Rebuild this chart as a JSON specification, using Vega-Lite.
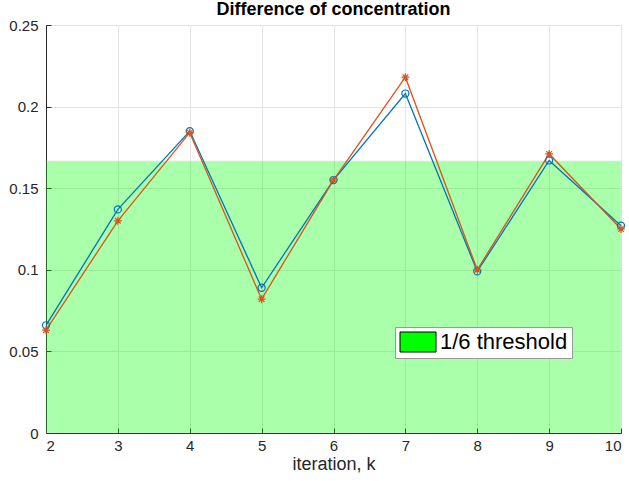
{
  "$schema": "https://vega.github.io/schema/vega-lite/v6.json",
  "autosize": {"type": "none"},
  "padding": {"left": 46, "top": 25, "right": 8, "bottom": 48},
  "width": 575,
  "height": 408,
  "background": "white",
  "title": {"text": "Difference of concentration", "font": "Liberation Sans", "fontSize": 18, "fontWeight": "bold", "color": "#000000", "offset": -1, "anchor": "middle"},
  "datasets": {
    "series": [
      {"k": 2, "value": 0.066, "series": "A"},
      {"k": 3, "value": 0.137, "series": "A"},
      {"k": 4, "value": 0.185, "series": "A"},
      {"k": 5, "value": 0.089, "series": "A"},
      {"k": 6, "value": 0.155, "series": "A"},
      {"k": 7, "value": 0.208, "series": "A"},
      {"k": 8, "value": 0.099, "series": "A"},
      {"k": 9, "value": 0.167, "series": "A"},
      {"k": 10, "value": 0.127, "series": "A"},
      {"k": 2, "value": 0.063, "series": "B"},
      {"k": 3, "value": 0.130, "series": "B"},
      {"k": 4, "value": 0.184, "series": "B"},
      {"k": 5, "value": 0.082, "series": "B"},
      {"k": 6, "value": 0.155, "series": "B"},
      {"k": 7, "value": 0.218, "series": "B"},
      {"k": 8, "value": 0.100, "series": "B"},
      {"k": 9, "value": 0.171, "series": "B"},
      {"k": 10, "value": 0.125, "series": "B"}
    ],
    "threshold": [
      {"x0": 2, "x1": 10, "y0": 0, "y1": 0.16667, "label": "1/6 threshold"}
    ]
  },
  "config": {
    "view": {"stroke": null},
    "axis": {
      "labelFont": "Liberation Sans", "labelFontSize": 15, "labelColor": "#262626",
      "titleFont": "Liberation Sans", "titleFontSize": 18, "titleColor": "#262626", "titleFontWeight": "normal",
      "domainColor": "#262626", "tickColor": "#262626", "gridColor": "#e3e3e3", "gridOpacity": 1,
      "tickSize": -5
    },
    "legend": {
      "orient": "none", "legendX": 349, "legendY": 302,
      "fillColor": "white", "strokeColor": "#999999", "padding": 4,
      "labelFont": "Liberation Sans", "labelFontSize": 22, "labelColor": "#000000",
      "symbolType": "M-1.8,-1L1.8,-1L1.8,1L-1.8,1Z", "symbolSize": 400,
      "symbolStrokeColor": "#000000", "symbolStrokeWidth": 1, "symbolOpacity": 1,
      "symbolOffset": 8, "labelOffset": 11, "cornerRadius": 0
    }
  },
  "layer": [
    {
      "data": {"name": "threshold"},
      "mark": {"type": "rect", "opacity": 0.33, "stroke": "#bbbbbb", "strokeOpacity": 0.7, "strokeWidth": 1},
      "encoding": {
        "x": {"field": "x0", "type": "quantitative", "scale": {"domain": [2, 10], "nice": false}, "axis": {"title": "iteration, k", "values": [2,3,4,5,6,7,8,9,10], "format": "d", "titlePadding": 2, "labelPadding": 10}},
        "x2": {"field": "x1"},
        "y": {"field": "y0", "type": "quantitative", "scale": {"domain": [0, 0.25], "nice": false}, "axis": {"title": null, "values": [0, 0.05, 0.1, 0.15, 0.2, 0.25], "format": "~g", "labelPadding": 13}},
        "y2": {"field": "y1"},
        "fill": {"field": "label", "type": "nominal", "scale": {"range": ["#00ff00"]}, "legend": {"title": null}}
      }
    },
    {
      "data": {"name": "series"},
      "mark": {"type": "line", "strokeWidth": 1.3},
      "encoding": {
        "x": {"field": "k", "type": "quantitative"},
        "y": {"field": "value", "type": "quantitative"},
        "stroke": {"field": "series", "type": "nominal", "scale": {"domain": ["A", "B"], "range": ["#0072BD", "#D95319"]}, "legend": null}
      }
    },
    {
      "data": {"name": "series"},
      "transform": [{"filter": "datum.series === 'A'"}],
      "mark": {"type": "point", "shape": "circle", "filled": false, "size": 50, "stroke": "#0072BD", "strokeWidth": 1.2, "opacity": 1},
      "encoding": {
        "x": {"field": "k", "type": "quantitative"},
        "y": {"field": "value", "type": "quantitative"}
      }
    },
    {
      "data": {"name": "series"},
      "transform": [{"filter": "datum.series === 'B'"}],
      "mark": {"type": "point", "shape": "M0,-1L0,1M-1,0L1,0M-0.7,-0.7L0.7,0.7M-0.7,0.7L0.7,-0.7", "filled": false, "size": 64, "stroke": "#D95319", "strokeWidth": 1.2, "opacity": 1},
      "encoding": {
        "x": {"field": "k", "type": "quantitative"},
        "y": {"field": "value", "type": "quantitative"}
      }
    }
  ]
}
